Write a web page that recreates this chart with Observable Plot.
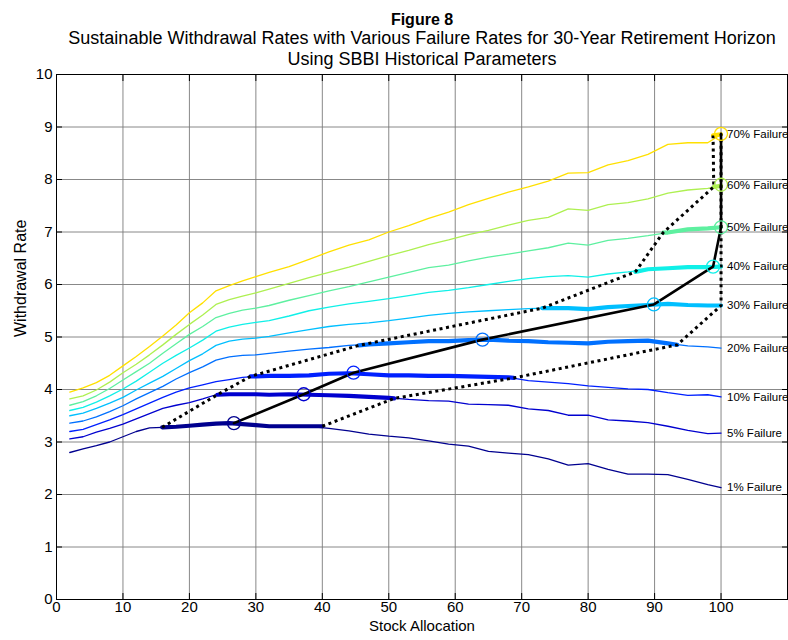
<!DOCTYPE html>
<html><head><meta charset="utf-8">
<script src="https://cdn.jsdelivr.net/npm/d3@7"></script>
<script src="https://cdn.jsdelivr.net/npm/@observablehq/plot@0.6"></script>
<style>body{margin:0;background:#fff}svg{display:block}</style>
</head><body><div id="chart"></div>
<script>
// Stock allocation grid (x values, %)
const alloc = [2,4,6,8,10,12,14,16,18,20,22,24,26,28,30,32,35,38,41,44,47,50,53,56,59,62,65,68,71,74,77,80,83,86,89,92,95,98,100];

// Sustainable withdrawal rate curves by failure rate
const fail1  = [2.80,2.87,2.93,3.00,3.10,3.20,3.27,3.28,3.29,3.31,3.33,3.35,3.36,3.34,3.32,3.30,3.30,3.30,3.26,3.21,3.15,3.11,3.08,3.02,2.96,2.92,2.82,2.79,2.76,2.68,2.56,2.59,2.48,2.39,2.39,2.38,2.29,2.19,2.13];
const fail5  = [3.06,3.10,3.19,3.26,3.34,3.44,3.54,3.64,3.70,3.75,3.82,3.90,3.91,3.91,3.91,3.90,3.91,3.90,3.89,3.88,3.86,3.84,3.81,3.79,3.78,3.72,3.71,3.70,3.63,3.60,3.51,3.51,3.42,3.40,3.37,3.30,3.22,3.16,3.17];
const fail10 = [3.20,3.24,3.33,3.42,3.52,3.63,3.74,3.85,3.95,4.03,4.09,4.15,4.19,4.23,4.25,4.26,4.26,4.27,4.30,4.31,4.29,4.27,4.27,4.26,4.26,4.25,4.24,4.23,4.17,4.14,4.11,4.07,4.04,4.01,4.00,3.94,3.89,3.90,3.86];
const fail20 = [3.36,3.40,3.48,3.58,3.69,3.82,3.94,4.06,4.20,4.32,4.43,4.56,4.62,4.65,4.66,4.69,4.73,4.77,4.80,4.84,4.86,4.88,4.90,4.92,4.92,4.94,4.95,4.93,4.92,4.90,4.89,4.88,4.91,4.92,4.93,4.88,4.83,4.81,4.79];
const fail30 = [3.50,3.55,3.64,3.74,3.85,3.99,4.12,4.25,4.40,4.55,4.68,4.84,4.92,4.96,4.98,5.01,5.08,5.14,5.20,5.24,5.27,5.31,5.36,5.41,5.45,5.48,5.50,5.52,5.54,5.55,5.55,5.53,5.57,5.59,5.61,5.63,5.61,5.60,5.60];
const fail40 = [3.60,3.66,3.76,3.88,4.01,4.16,4.33,4.50,4.65,4.79,4.94,5.11,5.19,5.24,5.28,5.31,5.40,5.50,5.57,5.63,5.68,5.73,5.79,5.85,5.89,5.94,6.00,6.06,6.11,6.15,6.17,6.14,6.20,6.24,6.29,6.31,6.33,6.33,6.34];
const fail50 = [3.70,3.77,3.88,4.02,4.18,4.34,4.50,4.69,4.87,5.05,5.20,5.37,5.45,5.51,5.55,5.60,5.70,5.79,5.88,5.96,6.05,6.14,6.23,6.32,6.37,6.45,6.52,6.58,6.64,6.70,6.79,6.75,6.84,6.88,6.93,6.99,7.05,7.07,7.09];
const fail60 = [3.82,3.88,3.99,4.14,4.32,4.48,4.66,4.85,5.05,5.24,5.42,5.62,5.71,5.78,5.84,5.91,6.02,6.13,6.23,6.33,6.44,6.55,6.65,6.76,6.85,6.95,7.03,7.13,7.22,7.28,7.44,7.41,7.52,7.56,7.63,7.74,7.80,7.83,7.88];
const fail70 = [3.95,4.03,4.13,4.27,4.45,4.63,4.82,5.02,5.23,5.46,5.65,5.88,5.98,6.07,6.15,6.23,6.34,6.48,6.62,6.75,6.85,7.00,7.12,7.26,7.38,7.52,7.64,7.76,7.86,7.97,8.12,8.13,8.28,8.36,8.48,8.67,8.70,8.70,8.86];

const failureNames  = ["1% Failure","5% Failure","10% Failure","20% Failure","30% Failure","40% Failure","50% Failure","60% Failure","70% Failure"];
const failureColors = ["#00008F","#0000CF","#0020FF","#0070FF","#00BFFF","#10F0E8","#5EF0A0","#AEF051","#FFE000"];

// Ends of the highlighted (near-optimal) segment of each curve
const lowX  = [15.9,24.2,29.2,45.5,73.1,87.1,91.3,98.9,98.8];
const lowY  = [3.28,3.90,4.25,4.84,5.55,6.24,6.99,7.86,8.84];
const highX = [40.0,50.8,68.8,93.4,100,100,100,100,100];
const highY = [3.30,3.83,4.22,4.85,5.60,6.34,7.09,7.88,8.86];

// Optimal allocation for each failure rate
const optX = [26.7,37.2,44.7,64.1,89.9,98.8,100,100,100];
const optY = [3.36,3.91,4.32,4.95,5.62,6.34,7.09,7.90,8.87];

const xTicks = [0,10,20,30,40,50,60,70,80,90,100];
const yTicks = [0,1,2,3,4,5,6,7,8,9,10];
const titleText = "Figure 8";
const subtitleLines = ["Sustainable Withdrawal Rates with Various Failure Rates for 30-Year Retirement Horizon","Using SBBI Historical Parameters"];
const xLabel = "Stock Allocation";
const yLabel = "Withdrawal Rate";

const curves = [fail1,fail5,fail10,fail20,fail30,fail40,fail50,fail60,fail70];
const series = curves.map((ys,i)=>alloc.map((x,j)=>({x, y: ys[j], k: i})));
const thick = curves.map((ys,i)=>[
  {x: lowX[i], y: lowY[i]},
  ...series[i].filter(d=>d.x>lowX[i] && d.x<highX[i]),
  {x: highX[i], y: highY[i]}
]);
const lowPts  = lowX.map((x,i)=>({x, y: lowY[i]}));
const highPts = highX.map((x,i)=>({x, y: highY[i]}));
const optPts  = optX.map((x,i)=>({x, y: optY[i], c: failureColors[i]}));
const endPts  = curves.map((ys,i)=>({x: alloc[alloc.length-1], y: ys[ys.length-1], t: failureNames[i]}));

const font = "'Liberation Sans', Arial, Helvetica, sans-serif";
const dotted = {stroke:"black", strokeWidth:3, strokeDasharray:"3,3.6", strokeLinecap:"butt"};
const fmt = d => String(d);

const chart = Plot.plot({
  width: 788, height: 640,
  marginLeft: 56, marginRight: 1, marginTop: 74, marginBottom: 41,
  style: {fontFamily: font, fontSize: "15px", background: "white", color: "black"},
  x: {domain: [0,110]},
  y: {domain: [0,10]},
  color: {type: "identity"},
  marks: [
    Plot.gridX(xTicks, {stroke:"#7a7a7a", strokeOpacity:1, strokeWidth:0.9}),
    Plot.gridY(yTicks, {stroke:"#7a7a7a", strokeOpacity:1, strokeWidth:0.9}),
    Plot.frame({stroke:"black", strokeWidth:1}),
    Plot.axisX(xTicks, {anchor:"bottom", tickSize:0, tickPadding:2, fontSize:15, tickFormat:fmt, label:null}),
    Plot.axisY(yTicks, {anchor:"left", tickSize:0, tickPadding:4, fontSize:15, tickFormat:fmt, label:null}),
    Plot.axisX(xTicks, {anchor:"bottom", tickSize:-6, tickFormat:()=>"", label:null}),
    Plot.axisX(xTicks, {anchor:"top", tickSize:-6, tickFormat:()=>"", label:null}),
    Plot.axisY(yTicks, {anchor:"left", tickSize:-6, tickFormat:()=>"", label:null}),
    Plot.axisY(yTicks, {anchor:"right", tickSize:-6, tickFormat:()=>"", label:null}),
    ...series.map((s,i)=>Plot.line(s, {x:"x", y:"y", stroke: failureColors[i], strokeWidth:1.3})),
    ...thick.map((s,i)=>Plot.line(s, {x:"x", y:"y", stroke: failureColors[i], strokeWidth:4.2})),
    Plot.line(lowPts, {x:"x", y:"y", ...dotted}),
    Plot.line(highPts, {x:"x", y:"y", ...dotted}),
    Plot.line(optPts, {x:"x", y:"y", stroke:"black", strokeWidth:2.6}),
    Plot.dot(optPts, {x:"x", y:"y", r:6.5, stroke:"c", strokeWidth:1.3, fill:"none"}),
    Plot.text(endPts, {x:"x", y:"y", text:"t", dx:6, textAnchor:"start", fontSize:11.5, fill:"black"}),
    Plot.text([titleText], {frameAnchor:"top", dy:-61, fontWeight:"bold", fontSize:16, fill:"black"}),
    Plot.text([subtitleLines[0]], {frameAnchor:"top", dy:-43, fontSize:18, fill:"black"}),
    Plot.text([subtitleLines[1]], {frameAnchor:"top", dy:-22, fontSize:18, fill:"black"}),
    Plot.text([xLabel], {frameAnchor:"bottom", dy:31.5, fontSize:15, fill:"black"}),
    Plot.text([yLabel], {frameAnchor:"left", dx:-36, rotate:-90, fontSize:16, fill:"black"})
  ]
});
document.getElementById("chart").append(chart);
</script>
</body></html>
